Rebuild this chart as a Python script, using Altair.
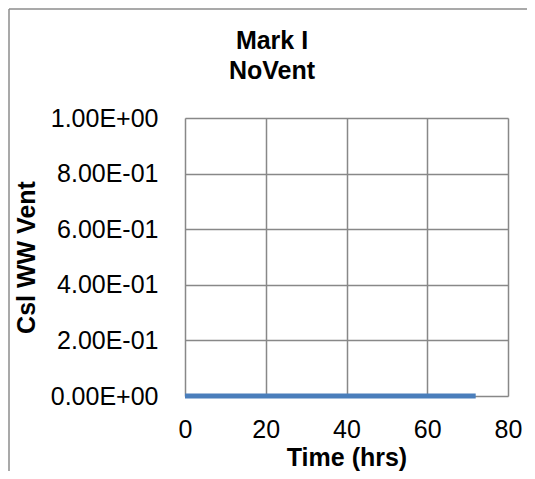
import altair as alt
import pandas as pd

# Data
time_hrs = [0, 12, 24, 36, 48, 60, 72]
csl_ww_vent = [0.0, 0.0, 0.0, 0.0, 0.0, 0.0, 0.0]
y_ticks = [0.0, 0.2, 0.4, 0.6, 0.8, 1.0]
y_tick_labels = ["0.00E+00", "2.00E-01", "4.00E-01", "6.00E-01", "8.00E-01", "1.00E+00"]
x_ticks = [0, 20, 40, 60, 80]
title_lines = ["Mark I", "NoVent"]

df = pd.DataFrame({"t": time_hrs, "v": csl_ww_vent})

FONT = "Liberation Sans"
GRID = "#888888"
FS = 25

label_expr = "[" + ",".join("'" + s + "'" for s in y_tick_labels) + "][round(datum.value*5)]"

line = alt.Chart(df).mark_line(color="#4A7EBB", strokeWidth=5, strokeCap="butt").encode(
    x=alt.X("t:Q", scale=alt.Scale(domain=[0, 80], nice=False),
            axis=alt.Axis(values=x_ticks, title="Time (hrs)", ticks=False, labelPadding=21,
                          labelFlush=False, labelOverlap=False,
                          titleY=69, titleBaseline="alphabetic",
                          domain=False, grid=True, gridColor=GRID, gridWidth=1.5,
                          labelFontSize=FS, titleFontSize=FS, labelFont=FONT, titleFont=FONT,
                          labelColor="black", titleColor="black", titleFontWeight="bold")),
    y=alt.Y("v:Q", scale=alt.Scale(domain=[0, 1], nice=False),
            axis=alt.Axis(values=y_ticks, labelExpr=label_expr, title="Csl WW Vent", ticks=False,
                          labelPadding=27, titlePadding=11, domain=False, grid=True,
                          labelFlush=False, labelOverlap=False,
                          gridColor=GRID, gridWidth=1.5,
                          labelFontSize=FS, titleFontSize=FS, labelFont=FONT, titleFont=FONT,
                          labelColor="black", titleColor="black", titleFontWeight="bold")),
)

frame_data = alt.Data(values=[{"k": 1}])
frame_left = alt.Chart(frame_data).mark_rule(color="#8c8c8c", strokeWidth=1.5).encode(
    x=alt.value(-176), y=alt.value(-109), y2=alt.value(400))
frame_top = alt.Chart(frame_data).mark_rule(color="#8c8c8c", strokeWidth=1.5).encode(
    x=alt.value(-176), x2=alt.value(360), y=alt.value(-109))

chart = alt.layer(line, frame_left, frame_top).properties(
    width=323, height=278,
    autosize=alt.AutoSizeParams(type="none"),
    padding={"left": 177, "top": 110, "right": 19, "bottom": 75},
    title=alt.TitleParams(text=title_lines, fontSize=FS, fontWeight="bold", font=FONT,
                          color="black", anchor="middle", frame="group", dx=-74.5,
                          offset=-76, lineHeight=30),
).configure_view(stroke=GRID, strokeWidth=1.5).configure(background="white")

chart.save("out.html", embed_options={"renderer": "svg", "actions": False})
